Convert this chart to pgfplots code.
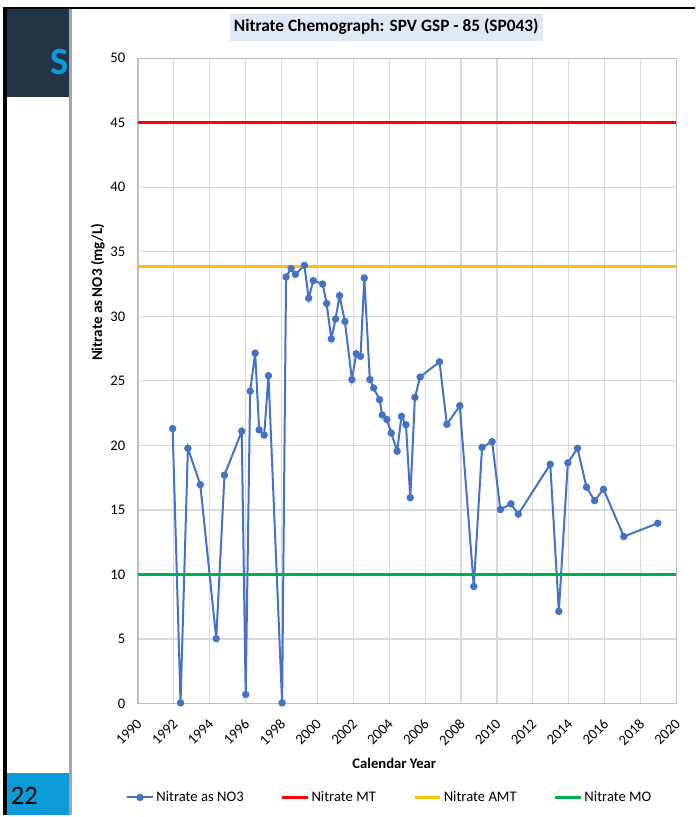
\documentclass[border=0pt]{standalone}
\usepackage{fontspec}
\setmainfont{Carlito}
\usepackage{pgfplots}
\pgfplotsset{compat=1.18}
\definecolor{no3blue}{HTML}{4472C4}
\definecolor{mtred}{HTML}{FF0000}
\definecolor{amtorange}{HTML}{FFC000}
\definecolor{mogreen}{HTML}{00B050}
\definecolor{gridmaj}{HTML}{D9D9D9}
\definecolor{gridmin}{HTML}{EDEDED}
\definecolor{axisgray}{HTML}{BFBFBF}
\definecolor{titlebg}{HTML}{DEEBF7}
\definecolor{slidenavy}{HTML}{243447}
\definecolor{slidecyan}{HTML}{0A9BD8}
\definecolor{sbar}{HTML}{A6A6A6}

\begin{document}
\begin{tikzpicture}
  % page frame, in screen pixels (1px = 0.75pt)
  \begin{scope}[x=0.75pt, y=-0.75pt]
    \useasboundingbox (0,0) rectangle (696,817);
    \fill[white] (0,0) rectangle (696,817);
  \end{scope}

  \begin{axis}[
      at={(103.7pt,-43.7pt)}, anchor=north west,
      scale only axis, width=404.6pt, height=485pt,
      xmin=1990, xmax=2020, ymin=0, ymax=50,
      xtick={1990,1992,...,2020}, ytick={0,5,...,50},
      minor x tick num=3,
      xmajorgrids, xminorgrids, ymajorgrids,
      major grid style={draw=gridmaj, line width=0.9pt},
      minor grid style={draw=gridmin, line width=0.7pt},
      axis line style={draw=axisgray, line width=0.8pt},
      major tick length=0pt, minor tick length=0pt,
      font=\fontsize{11}{13}\selectfont,
      /pgf/number format/assume math mode=true,
      /pgf/number format/1000 sep={},
      xticklabel style={xshift=3.5pt, yshift=-11pt, rotate=45, anchor=east},
      yticklabel style={xshift=-6pt},
      title={Nitrate Chemograph: SPV GSP - 85 (SP043)},
      title style={at={(0.461,1.0476)}, anchor=center, yshift=-6pt, fill=titlebg,
        font=\bfseries\fontsize{13}{15}\selectfont, inner xsep=3pt,
        text height=9.5pt, text depth=2.8pt, inner ysep=3.8pt},
      xlabel={Calendar Year},
      xlabel style={at={(axis description cs:0.476,-0.0928)}, anchor=center,
        font=\bfseries\fontsize{11}{13}\selectfont},
      ylabel={Nitrate as NO3 (mg/L)},
      ylabel style={at={(axis description cs:-0.0747,0.637)}, anchor=center,
        font=\bfseries\fontsize{11.3}{13}\selectfont},
      legend columns=4,
      legend style={at={(0.4685,-0.1454)}, anchor=center, draw=none, fill=none,
        font=\fontsize{11}{13}\selectfont,
        /tikz/every even column/.append style={column sep=26pt}},
      legend image code/.code={
        \draw[mark repeat=2, mark phase=2, #1]
          plot coordinates {(0pt,0pt) (9.5pt,0pt) (19pt,0pt)};},
    ]
    \addplot[no3blue, line width=1.5pt, mark=*, mark size=2pt,
             mark options={fill=no3blue, draw=no3blue}] coordinates {
      (1991.93,21.3) (1992.37,0.05) (1992.78,19.78) (1993.47,16.96)
      (1994.36,5.03) (1994.82,17.7) (1995.78,21.1) (1996.00,0.7)
      (1996.25,24.2) (1996.53,27.15) (1996.75,21.2) (1997.03,20.8)
      (1997.27,25.4) (1998.03,0.05) (1998.25,33.05) (1998.53,33.7)
      (1998.77,33.25) (1999.27,33.95) (1999.51,31.4) (1999.77,32.77)
      (2000.29,32.5) (2000.51,31.0) (2000.77,28.25) (2001.01,29.8)
      (2001.23,31.6) (2001.53,29.6) (2001.92,25.1) (2002.16,27.1)
      (2002.40,26.9) (2002.61,32.97) (2002.92,25.1) (2003.13,24.45)
      (2003.46,23.55) (2003.61,22.35) (2003.87,22.0) (2004.11,20.96)
      (2004.44,19.55) (2004.68,22.25) (2004.93,21.6) (2005.17,15.95)
      (2005.43,23.72) (2005.72,25.3) (2006.80,26.47) (2007.21,21.63)
      (2007.93,23.07) (2008.71,9.07) (2009.17,19.85) (2009.73,20.29)
      (2010.19,15.03) (2010.78,15.47) (2011.19,14.67) (2012.97,18.54)
      (2013.45,7.14) (2013.95,18.64) (2014.49,19.78) (2014.99,16.76)
      (2015.44,15.72) (2015.94,16.6) (2017.07,12.94) (2018.96,13.97)};
    \addlegendentry{Nitrate as NO3}
    \addplot[mtred, line width=2pt, no marks] coordinates {(1990,45) (2020,45)};
    \addlegendentry{Nitrate MT}
    \addplot[amtorange, line width=2pt, no marks] coordinates {(1990,33.87) (2020,33.87)};
    \addlegendentry{Nitrate AMT}
    \addplot[mogreen, line width=2pt, no marks] coordinates {(1990,10) (2020,10)};
    \addlegendentry{Nitrate MO}
  \end{axis}

  % slide furniture around the chart
  \begin{scope}[x=0.75pt, y=-0.75pt]
    \fill[slidenavy] (7,9.3) rectangle (69.5,97);
    \begin{scope}
      \clip (7,9.3) rectangle (69.5,97);
      \node[anchor=west, inner sep=0pt, text=slidecyan,
            font=\bfseries\fontsize{29}{30}\selectfont] at (50.5,62) {S};
    \end{scope}
    \fill[slidecyan] (6.7,775) rectangle (69.5,817);
    \node[font=\fontsize{20}{22}\selectfont, inner sep=0pt] at (24.5,797) {22};
    \draw[sbar, line width=1.8pt] (70.7,9.3) -- (70.7,817);
    \draw[black, line width=2.2pt] (5,8) -- (696,8);
    \draw[black, line width=2.4pt] (5,6.8) -- (5,817);
  \end{scope}
\end{tikzpicture}
\end{document}
